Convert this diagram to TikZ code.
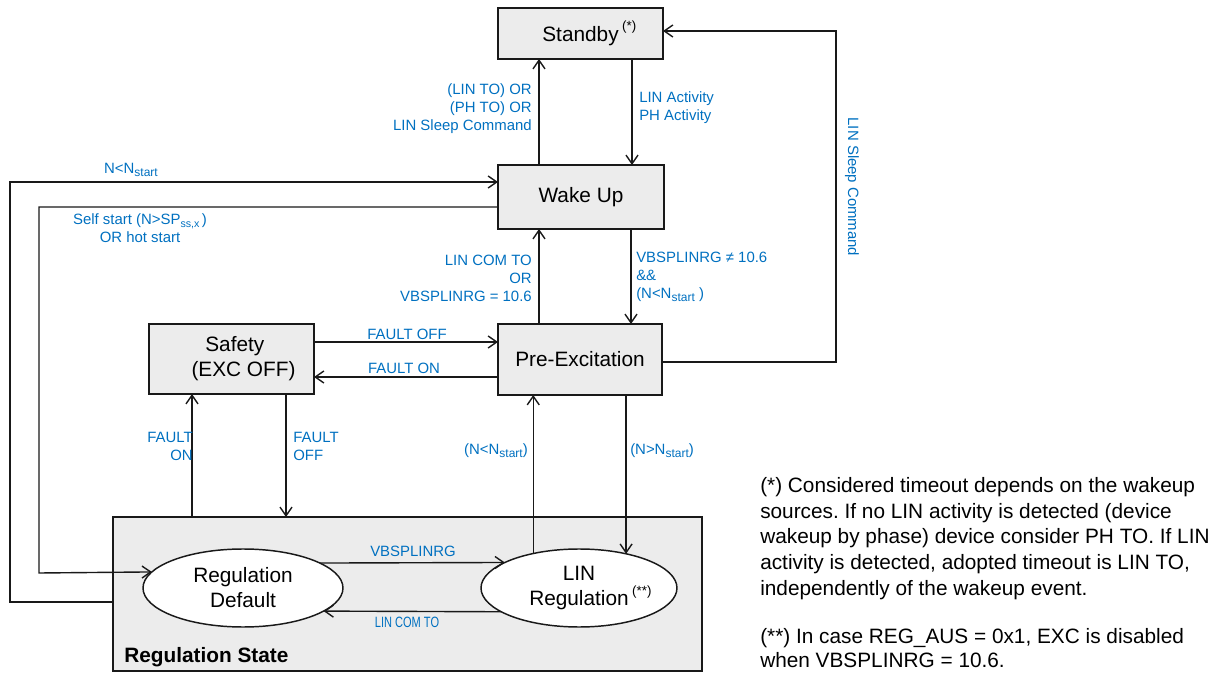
\documentclass[tikz,border=0pt]{standalone}
\usepackage{fontspec}
\setmainfont{Liberation Sans}
\usetikzlibrary{arrows.meta,shapes.geometric,calc}
\definecolor{lblue}{RGB}{0,112,192}
\definecolor{boxfill}{RGB}{236,236,236}
\definecolor{linec}{RGB}{25,25,25}
\newcommand\lsub[1]{\raisebox{-0.35ex}{\fontsize{9}{9}\selectfont #1}}
\newcommand\lsubb[1]{\raisebox{-0.45ex}{\fontsize{8}{8}\selectfont #1}}
\newcommand\lsup[1]{\raisebox{0.95ex}{\fontsize{10}{10}\selectfont #1}}
\frenchspacing
\begin{document}
\begin{tikzpicture}[x=0.75pt,y=-0.75pt,
  statebox/.style={draw=linec, fill=boxfill, line width=1.4pt, inner sep=0pt, outer sep=0pt,
    font=\fontsize{15.6}{18.75}\selectfont, align=center},
  stateell/.style={ellipse, draw=linec, fill=white, line width=1.1pt, minimum height=58.5pt,
    inner sep=0pt, outer sep=0pt, font=\fontsize{15.6}{18.75}\selectfont, align=center},
  conn/.style={draw=linec, line width=1.05pt, -{Straight Barb[length=6.5pt,width=9pt]}},
  lbl/.style={text=lblue, font=\fontsize{11.2}{13.5}\selectfont, inner sep=0pt},
  note/.style={font=\fontsize{15.6}{19.4}\selectfont, align=left, inner sep=0pt, anchor=west},
]
\useasboundingbox (0,0) rectangle (1228,673);

% regulation state container
\node[draw=linec, fill=boxfill, line width=1.1pt, inner sep=0pt, outer sep=0pt,
      minimum width=441.75pt, minimum height=115.5pt] (rs) at (407.5,594) {};
\node[font=\bfseries\fontsize{15.6}{18}\selectfont, anchor=west, inner sep=0pt] (rst) at (124,657) {Regulation State};

% state boxes
\node[statebox, minimum width=123.75pt, minimum height=38.25pt] (sb) at (580.5,33.5) {Standby\rlap{\,\lsup{(*)}}};
\node[statebox, minimum width=124.5pt, minimum height=48pt] (wu) at (581,197) {Wake Up};
\node[statebox, minimum width=123pt, minimum height=53.25pt] (pe) at (580,359.5) {Pre-Excitation};
\node[statebox, minimum width=123.75pt, minimum height=52.5pt] (sf) at (231.5,359) {\hspace*{5pt}Safety\\\hspace*{18pt}(EXC OFF)};

% ellipses
\node[stateell, minimum width=150pt] (rd) at (243,588) {Regulation\\Default};
\node[stateell, minimum width=147pt] (lr) at (579,588) {LIN\\Regulation\rlap{\,\lsup{(**)}}};

% connectors
\coordinate (xa) at (539,0);
\coordinate (xb) at (632,0);
\coordinate (xc) at (631,0);
\draw[conn] (wu.north -| xa) -- (sb.south -| xa);
\draw[conn] (sb.south -| xb) -- (wu.north -| xb);
\draw[conn] (pe.north -| xa) -- (wu.south -| xa);
\draw[conn] (wu.south -| xc) -- (pe.north -| xc);

\draw[conn] (pe.east |- 0,362) -- (836,362) -- (836,31) -- (sb.east |- 0,31);
\draw[conn] (rs.west |- 0,602) -- (10,602) -- (10,182) -- (wu.west |- 0,182);
\draw[conn] (wu.west |- 0,207) -- (39,207) -- (39,573) -- (rd.170.77);

\draw[conn] (sf.east |- 0,342) -- (pe.west |- 0,342);
\draw[conn] (pe.west |- 0,377) -- (sf.east |- 0,377);
\draw[conn] (rs.north -| 192,0) -- (sf.south -| 192,0);
\draw[conn] (sf.south -| 286,0) -- (rs.north -| 286,0);

\draw[conn] (lr.143.96) -- (lr.143.96 |- pe.south);
\draw[conn] (pe.south -| lr.36.04) -- (lr.36.04);
\draw[conn] (rd.18.04) -- (lr.161.61);
\draw[conn] (lr.197.27) -- (rd.-16.94);

% labels
\node[lbl, align=right, anchor=east] (l1) at (532,109) {(LIN TO) OR\\(PH TO) OR\\LIN Sleep Command};
\node[lbl, align=left, anchor=west] (l2) at (639,108) {LIN Activity\\PH Activity};
\node[lbl, rotate=-90] (l3) at (852,187) {LIN Sleep Command};
\node[lbl] (l4) at (131,170) {N<N\lsub{start}};
\node[lbl, align=center] (l5) at (140,228) {Self start (N>SP\lsubb{ss,x}\,)\\OR hot start};
\node[lbl, align=right, anchor=east] (l6) at (532,278) {LIN COM TO\\OR\\VBSPLINRG = 10.6};
\node[lbl, align=left, anchor=west] (l7) at (636,277) {VBSPLINRG ≠ 10.6\\\&\&\\(N<N\lsub{start} )};
\node[lbl] (l8) at (407,334) {FAULT OFF};
\node[lbl] (l9) at (404,368) {FAULT ON};
\node[lbl, align=right, anchor=east] (l10) at (193,446) {FAULT\\ON};
\node[lbl, align=left, anchor=west] (l11) at (293,446) {FAULT\\OFF};
\node[lbl, anchor=east] (l12) at (528,451) {(N<N\lsub{start})};
\node[lbl, anchor=west] (l13) at (630,451) {(N>N\lsub{start})};
\node[lbl] (l14) at (413,551) {VBSPLINRG};
\node[lbl] (l15) at (407,622) {\scalebox{0.74}[1]{LIN COM TO}};

% notes
\node[note] (n1) at (760,538.5) {(*) Considered timeout depends on the wakeup\\sources. If no LIN activity is detected (device\\wakeup by phase) device consider PH TO. If LIN\\activity is detected, adopted timeout is LIN TO,\\independently of the wakeup event.};
\node[note, font=\fontsize{15.6}{18}\selectfont] (n2) at (760,648) {(**) In case REG\_AUS = 0x1, EXC is disabled\\when VBSPLINRG = 10.6.};
\end{tikzpicture}
\end{document}
